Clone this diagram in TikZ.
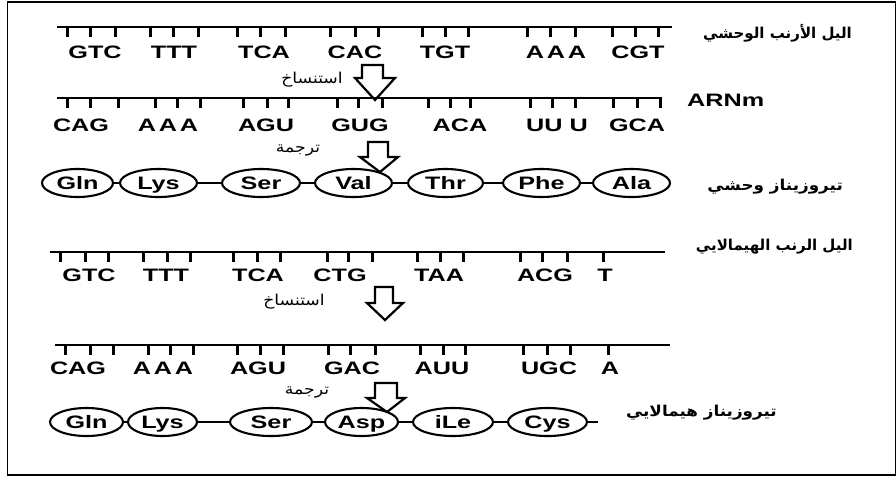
\documentclass[tikz,border=0pt]{standalone}
\usepackage{fontspec}
\usepackage{graphicx}
\setmainfont{Liberation Sans}
\newfontfamily\arabicfont[Script=Arabic]{DejaVu Sans}
\TeXXeTstate=1
\usetikzlibrary{shapes.geometric}
\newcommand\wdx[1]{\scalebox{1.4}[1]{#1}}
\newcommand\wda[1]{\scalebox{1.15}[1]{#1}}
\newcommand\wdb[1]{\scalebox{1.12}[1]{#1}}
\tikzset{
  strand/.style={line width=2.6pt},
  ticklet/.style={line width=3pt},
  base/.style={font=\fontsize{18}{18}\selectfont\bfseries, inner sep=0pt, text height=12.9pt, text depth=0pt},
  aa/.style={ellipse, draw, line width=2.1pt, minimum width=#1, minimum height=28pt, inner sep=0pt, text height=12.9pt, text depth=0pt, font=\fontsize{18}{18}\selectfont\bfseries},
  link/.style={line width=1.6pt},
  blockarrow/.style={draw, line width=2.2pt, fill=white, line join=miter},
  arlab/.style={font=\arabicfont\fontsize{15}{15}\selectfont, inner sep=0pt},
  arlabb/.style={font=\arabicfont\bfseries\fontsize{15}{15}\selectfont, inner sep=0pt},
}
\begin{document}
\begin{tikzpicture}[x=1pt,y=-1pt]
\useasboundingbox (0,0) rectangle (896,477);
\draw[line width=1.5pt] (7.5,2) rectangle (895.5,475);

% ---- strand 1 (wild DNA)
\draw[strand] (57,27) -- (672,27);
\foreach \x in {67,90,115,150,173,198,237,260,285,330,355,378,422,445,468,527,550,575,612,635,658}
  \draw[ticklet] (\x,27) -- (\x,37);
\node[base] (a1) at (95,52) {\wdx{GTC}};
\node[base] (a2) at (174,52) {\wdx{TTT}};
\node[base] (a3) at (264,52) {\wdx{TCA}};
\node[base] (a4) at (355,52) {\wdx{CAC}};
\node[base] (a5) at (445,52) {\wdx{TGT}};
\node[base] (a6) at (556,52) {\wdx{A\kern2pt A\kern2pt A}};
\node[base] (a7) at (638,52) {\wdx{CGT}};
\node[arlabb, anchor=east] (lab1) at (852,33) {\beginR اليل الأرنب الوحشي\endR};

\draw[blockarrow] (362,65) -- (383,65) -- (383,78) -- (395,78) -- (375,100) -- (355,78) -- (362,78) -- cycle;
\node[arlab] (t1) at (312,80) {\wda{\beginR استنساخ\endR}};

% ---- strand 2 (wild mRNA)
\draw[strand] (57,98) -- (662,98);
\foreach \x in {67,90,118,155,177,200,243,267,288,337,358,382,428,450,470,530,552,575,613,637,660}
  \draw[ticklet] (\x,98) -- (\x,108);
\node[base] (b1) at (81,125) {\wdx{CAG}};
\node[base] (b2) at (168,125) {\wdx{A\kern2pt A\kern2pt A}};
\node[base] (b3) at (266,125) {\wdx{AGU}};
\node[base] (b4) at (360,125) {\wdx{GUG}};
\node[base] (b5) at (460,125) {\wdx{ACA}};
\node[base] (b6) at (557,125) {\wdx{UU\kern5pt U}};
\node[base] (b7) at (637,125) {\wdx{GCA}};
\node[base, anchor=west] (arn) at (687,100) {\wdx{ARNm}};

\draw[blockarrow] (368,142) -- (388,142) -- (388,157) -- (398,157) -- (380,172) -- (360,157) -- (368,157) -- cycle;
\node[arlab] (r1) at (298,150) {\wda{\beginR ترجمة\endR}};

% ---- protein 1
\node[aa=71pt] (p1) at (77.5,183) {\wdx{Gln}};
\node[aa=77pt] (p2) at (158.5,183) {\wdx{Lys}};
\node[aa=78pt] (p3) at (261,183) {\wdx{Ser}};
\node[aa=77pt] (p4) at (353.5,183) {\wdx{Val}};
\node[aa=75pt] (p5) at (445.5,183) {\wdx{Thr}};
\node[aa=77pt] (p6) at (541.5,183) {\wdx{Phe}};
\node[aa=77pt] (p7) at (631.5,183) {\wdx{Ala}};
\draw[link] (p1) -- (p2);
\draw[link] (p2) -- (p3);
\draw[link] (p3) -- (p4);
\draw[link] (p4) -- (p5);
\draw[link] (p5) -- (p6);
\draw[link] (p6) -- (p7);
\node[arlabb, anchor=east] (lab2) at (843,187) {\wdb{\beginR تيروزيناز وحشي\endR}};

% ---- strand 3 (himalayan DNA)
\draw[strand] (50,252) -- (665,252);
\foreach \x in {60,85,108,143,167,190,233,257,280,327,348,372,417,440,463,520,542,567,603}
  \draw[ticklet] (\x,252) -- (\x,262);
\node[base] (c1) at (89,275) {\wdx{GTC}};
\node[base] (c2) at (166,275) {\wdx{TTT}};
\node[base] (c3) at (258,275) {\wdx{TCA}};
\node[base] (c4) at (340,275) {\wdx{CTG}};
\node[base] (c5) at (439,275) {\wdx{TAA}};
\node[base] (c6) at (545,275) {\wdx{ACG}};
\node[base] (c7) at (605,275) {\wdx{T}};
\node[arlabb, anchor=east] (lab3) at (853,247) {\beginR اليل الرنب الهيمالايي\endR};

\draw[blockarrow] (375,287) -- (393,287) -- (393,303) -- (403,303) -- (385,320) -- (367,303) -- (375,303) -- cycle;
\node[arlab] (t2) at (294,302) {\wda{\beginR استنساخ\endR}};

% ---- strand 4 (himalayan mRNA)
\draw[strand] (55,345) -- (670,345);
\foreach \x in {65,90,113,148,170,193,237,260,283,328,350,375,420,443,465,523,547,570,608}
  \draw[ticklet] (\x,345) -- (\x,355);
\node[base] (d1) at (78,368) {\wdx{CAG}};
\node[base] (d2) at (163,368) {\wdx{A\kern2pt A\kern2pt A}};
\node[base] (d3) at (258,368) {\wdx{AGU}};
\node[base] (d4) at (352,368) {\wdx{GAC}};
\node[base] (d5) at (442,368) {\wdx{AUU}};
\node[base] (d6) at (549,368) {\wdx{UGC}};
\node[base] (d7) at (610,368) {\wdx{A}};

\draw[blockarrow] (375,383) -- (397,383) -- (397,398) -- (405,398) -- (387,412) -- (367,398) -- (375,398) -- cycle;
\node[arlab] (r2) at (307,392) {\wda{\beginR ترجمة\endR}};

% ---- protein 2
\node[aa=73pt] (q1) at (86.5,422) {\wdx{Gln}};
\node[aa=69pt] (q2) at (162.5,422) {\wdx{Lys}};
\node[aa=82pt] (q3) at (271,422) {\wdx{Ser}};
\node[aa=73pt] (q4) at (361.5,422) {\wdx{Asp}};
\node[aa=80pt] (q5) at (453,422) {\wdx{iLe}};
\node[aa=79pt] (q6) at (547.5,422) {\wdx{Cys}};
\coordinate (tail) at (598,422);
\draw[link] (q1) -- (q2);
\draw[link] (q2) -- (q3);
\draw[link] (q3) -- (q4);
\draw[link] (q4) -- (q5);
\draw[link] (q5) -- (q6);
\draw[link] (q6) -- (tail);
\node[arlabb, anchor=east] (lab4) at (777,413) {\wdb{\beginR تيروزيناز هيمالايي\endR}};
\end{tikzpicture}
\end{document}
